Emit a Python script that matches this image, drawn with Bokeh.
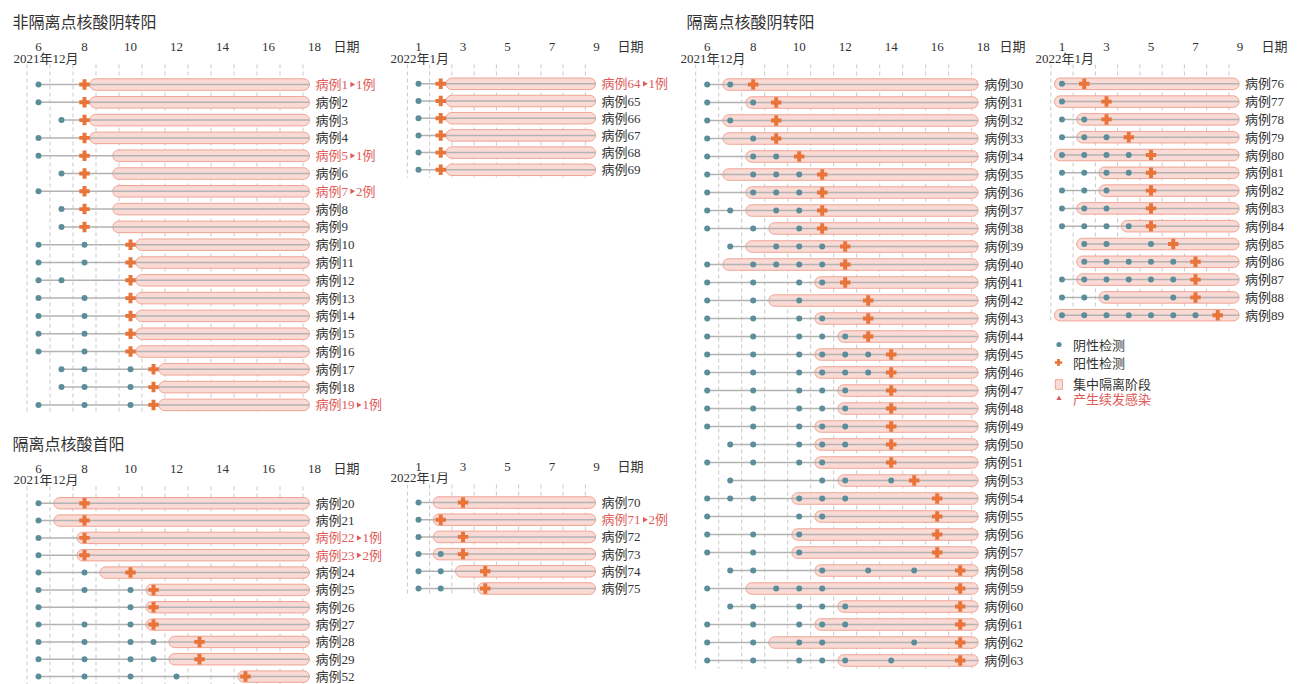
import math
import numpy as np
from bokeh.plotting import figure
from bokeh.models import (Range1d, FixedTicker, Label, Legend, LegendItem,
                          PrintfTickFormatter)
from bokeh.layouts import row, column
from bokeh.embed import file_html
from bokeh.resources import INLINE
from bokeh.core.properties import value

# ---------------- data ----------------
DEC_TICKS = [6, 8, 10, 12, 14, 16, 18]
JAN_TICKS = [1, 3, 5, 7, 9]
DEC_MONTH = "2021年12月"
JAN_MONTH = "2022年1月"
AXIS_NAME = "日期"
DEC_QEND = 17.78
JAN_QEND = 8.96

# 非隔离点核酸阴转阳 (Dec)
A_TITLE = "非隔离点核酸阴转阳"
A_CASES = list(range(1, 20))
A_NEG = [[6], [6], [7], [6], [6], [7], [6], [7], [7], [6, 8], [6, 8], [6, 7], [6, 8], [6, 8],
         [6, 8], [6, 8], [7, 8, 10], [7, 8, 10], [6, 8, 10]]
A_POS = [8, 8, 8, 8, 8, 8, 8, 8, 8, 10, 10, 10, 10, 10, 10, 10, 11, 11, 11]
A_QSTART = [8.23, 8.23, 8.23, 8.23, 9.23, 9.23, 9.23, 9.23, 9.23, 10.23, 10.23, 10.23, 10.23,
            10.23, 10.23, 10.23, 11.23, 11.23, 11.23]
A_SEC = [1, 0, 0, 0, 1, 0, 2, 0, 0, 0, 0, 0, 0, 0, 0, 0, 0, 0, 1]

# 非隔离点核酸阴转阳 (Jan)
B_CASES = [64, 65, 66, 67, 68, 69]
B_NEG = [[1], [1], [1], [1], [1], [1]]
B_POS = [2, 2, 2, 2, 2, 2]
B_QSTART = [2.24, 2.24, 2.24, 2.24, 2.24, 2.24]
B_SEC = [1, 0, 0, 0, 0, 0]

# 隔离点核酸首阳 (Dec)
C_TITLE = "隔离点核酸首阳"
C_CASES = [20, 21, 22, 23, 24, 25, 26, 27, 28, 29, 52]
C_NEG = [[6], [6], [6], [6], [6, 8], [6, 8, 10], [6, 10], [6, 8, 10], [6, 8, 10, 11],
         [6, 8, 10, 11], [6, 8, 10, 12]]
C_POS = [8, 8, 8, 8, 10, 11, 11, 11, 13, 13, 15]
C_QSTART = [6.67, 6.67, 7.67, 7.67, 8.67, 10.67, 10.67, 10.67, 11.67, 11.67, 14.67]
C_SEC = [0, 0, 1, 2, 0, 0, 0, 0, 0, 0, 0]

# 隔离点核酸首阳 (Jan)
D_CASES = [70, 71, 72, 73, 74, 75]
D_NEG = [[1], [1], [1], [1, 2], [1, 2], [1, 2]]
D_POS = [3, 2, 3, 3, 4, 4]
D_QSTART = [1.66, 1.66, 1.66, 1.66, 2.66, 3.66]
D_SEC = [0, 2, 0, 0, 0, 0]

# 隔离点核酸阴转阳 (Dec)
E_TITLE = "隔离点核酸阴转阳"
E_CASES = list(range(30, 52)) + list(range(53, 64))
E_NEG = [[6, 7], [6, 8], [6, 7], [6, 8], [6, 8, 9], [6, 8, 9, 10], [6, 8, 9, 10], [6, 7, 9, 10],
         [6, 8, 10], [7, 9, 10, 11], [6, 8, 9, 10, 11], [6, 8, 10, 11], [6, 8, 10],
         [6, 8, 10, 11], [6, 8, 10, 11, 12], [6, 8, 10, 11, 12, 13], [6, 8, 10, 11, 12, 13],
         [6, 8, 10, 11, 12], [6, 8, 10, 11, 12], [6, 8, 10, 11, 12], [7, 8, 10, 11, 12],
         [6, 8, 10, 11], [7, 11, 12, 14], [6, 7, 8, 10, 11, 12], [6, 10, 11], [6, 8, 10],
         [6, 8, 10], [7, 8, 11, 13, 15], [6, 9, 10, 11], [7, 8, 10, 11, 12], [6, 8, 10, 11, 12],
         [6, 8, 10, 11, 15], [6, 8, 10, 11, 12, 14]]
E_POS = [8, 9, 9, 9, 10, 11, 11, 11, 11, 12, 12, 12, 13, 13, 13, 14, 14, 14, 14, 14, 14, 14,
         15, 16, 16, 16, 16, 17, 17, 17, 17, 17, 17]
E_QSTART = [6.68, 7.68, 6.68, 6.68, 7.68, 6.68, 7.68, 7.68, 8.68, 7.68, 6.68, 10.68, 8.68,
            10.68, 11.68, 10.68, 10.68, 11.68, 11.68, 10.68, 10.68, 10.68, 11.68, 9.68, 10.68,
            9.68, 9.68, 10.68, 7.68, 11.68, 10.68, 8.68, 11.68]
E_SEC = [0] * 33

# 隔离点核酸阴转阳 (Jan)
F_CASES = list(range(76, 90))
F_NEG = [[1], [1], [1, 2], [1, 2, 3], [1, 2, 3, 4], [1, 2, 3, 4], [1, 2, 3], [1, 2, 3],
         [1, 2, 3, 4], [2, 3, 5], [2, 3, 4, 5, 6], [1, 2, 3, 4, 5, 6], [1, 2, 3, 6],
         [1, 2, 3, 4, 5, 6, 7]]
F_POS = [2, 3, 3, 4, 5, 5, 5, 5, 5, 6, 7, 7, 7, 8]
F_QSTART = [0.66, 0.66, 1.66, 1.66, 0.66, 2.66, 2.66, 1.66, 3.66, 1.66, 1.66, 1.66, 2.66, 0.66]
F_SEC = [0] * 14

LEGEND_LABELS = ["阴性检测", "阳性检测", "集中隔离阶段", "产生续发感染"]

# ---------------- style ----------------
NEG_COLOR = "#5b8e9a"
POS_COLOR = "#e8743a"
BAR_FILL = "#fadad4"
BAR_LINE = "#efa494"
LINE_COLOR = "#b3b3b3"
GRID_COLOR = "#c9c9c9"
TEXT_COLOR = "#333333"
RED = "#e05a58"
FONT = "'Liberation Serif', 'Noto Sans CJK SC'"


def build(geom, cases, neg, pos, qstart, qend, sec, ticks, month, title=None, legend=False):
    bx, by, w, h = geom["box"]
    ftop = geom["frame_top"]
    ppd, ppr = geom["ppd"], geom["ppr"]

    def X(px):
        return geom["day"] + (px - geom["day_px"]) / ppd

    def Y(py):
        return (py - geom["row0"]) / ppr

    p = figure(width=w, height=h,
               x_range=Range1d(X(bx), X(bx + w)),
               y_range=Range1d(Y(by + h), Y(ftop)),
               x_axis_location="above", y_axis_location=None,
               min_border_top=int(ftop - by), min_border_left=0, min_border_right=0,
               min_border_bottom=0, toolbar_location=None, output_backend="svg",
               outline_line_color=None, background_fill_color="white",
               border_fill_color="white")
    p.grid.visible = False
    unit_x = X(geom["unit_x"])
    ax = p.xaxis[0]
    ax.ticker = FixedTicker(ticks=list(ticks) + [unit_x])
    ax.formatter = PrintfTickFormatter(format="%d")
    ax.major_label_overrides = {unit_x: AXIS_NAME}
    ax.axis_line_color = None
    ax.major_tick_line_color = None
    ax.minor_tick_line_color = None
    ax.major_tick_out = 0
    ax.major_tick_in = 0
    ax.major_label_standoff = -1
    ax.major_label_text_font = FONT
    ax.major_label_text_font_size = "13px"
    ax.major_label_text_color = TEXT_COLOR

    if title:
        p.title.text = title
        p.title.text_font = FONT
        p.title.text_font_size = "16px"
        p.title.text_font_style = "normal"
        p.title.text_color = TEXT_COLOR
        p.title.align = "left"
        p.title.offset = geom["title_offset"]
        p.title.standoff = 10

    n = len(cases)
    ys = list(range(n))

    gx = [float(v) for v in np.arange(ticks[0] - 0.5, ticks[-1], 1.0)]
    p.segment(x0=gx, x1=gx, y0=[Y(ftop + 12)] * len(gx), y1=[n - 1 + 8 / ppr] * len(gx),
              line_color=GRID_COLOR, line_dash="4 3", line_width=1)

    bar_r = p.hbar(y=ys, left=qstart, right=[qend] * n, height=11.5 / ppr,
                   fill_color=BAR_FILL, line_color=BAR_LINE, line_width=1, border_radius=6)

    first = [min(ng + [ps]) for ng, ps in zip(neg, pos)]
    p.segment(x0=first, x1=[qend] * n, y0=ys, y1=ys, line_color=LINE_COLOR, line_width=1.5)

    nx = [d for ng in neg for d in ng]
    ny = [i for i, ng in enumerate(neg) for _ in ng]
    dot_r = p.scatter(nx, ny, marker="circle", size=6, fill_color=NEG_COLOR, line_color=None)
    plus_r = p.scatter(pos, ys, marker="plus", size=10.5, fill_color=POS_COLOR, line_color=None)

    lx = qend + 6 / ppd
    colors = [RED if s else TEXT_COLOR for s in sec]
    p.text(x=[lx] * n, y=ys, text=[f"病例{c}" for c in cases], text_color=colors,
           text_font=value(FONT), text_font_size="13px", text_baseline="middle",
           text_align="left")

    idx = [i for i, s in enumerate(sec) if s]
    tx = [lx + (26 + 6.5 * len(str(cases[i])) + 4) / ppd for i in idx]
    ty = [ys[i] for i in idx]
    if not tx:  # no secondary infections in this panel: keep a mark-less entry for the key
        tx, ty = [float("nan")], [float("nan")]
    tri_r = p.scatter(tx, ty, marker="triangle", angle=-math.pi / 2, size=5.5,
                      fill_color=RED, line_color=None)
    if idx:
        p.text(x=[t + 4 / ppd for t in tx], y=ty, text=[f"{sec[i]}例" for i in idx],
               text_color=RED, text_font=value(FONT), text_font_size="13px",
               text_baseline="middle", text_align="left")

    mx, my = geom["month"]
    p.add_layout(Label(x=X(mx), y=Y(my), text=month, text_align="left", text_baseline="middle",
                       text_font=FONT, text_font_size="13px", text_color=TEXT_COLOR))

    if legend:
        gcx, text_left = geom["legend_x"]
        centers = geom["legend_y"]
        fb = by + h
        specs = [
            (LEGEND_LABELS[0], dot_r, 13, 20, TEXT_COLOR, 0),
            (LEGEND_LABELS[1], plus_r, 18, 20, TEXT_COLOR, 0),
            (LEGEND_LABELS[2], bar_r, 9, 12, TEXT_COLOR, 7),
            (LEGEND_LABELS[3], tri_r, 13, 20, RED, 0),
        ]
        for (lab, rend, gw, gh, col, extra), cy in zip(specs, centers):
            left = gcx - gw / 2
            leg = Legend(items=[LegendItem(label=lab, renderers=[rend])],
                         location=(int(round(left - bx)), int(round(fb - (cy + gh / 2 + extra)))),
                         background_fill_alpha=0, border_line_color=None, padding=0, margin=0,
                         glyph_width=gw, glyph_height=gh, label_height=gh, spacing=0,
                         label_standoff=int(round(text_left - gcx - gw / 2)),
                         label_text_font=FONT, label_text_font_size="13px",
                         label_text_color=col)
            p.add_layout(leg)
    return p


GA = dict(box=(0, 0, 388, 428), frame_top=52, day=6, day_px=38, ppd=23, row0=84, ppr=17.8,
          month=(13, 58), unit_x=346, title_offset=12)
GC = dict(box=(0, 428, 388, 256), frame_top=472, day=6, day_px=38, ppd=23, row0=501,
          ppr=17.5, month=(13, 477), unit_x=346, title_offset=12)
GB = dict(box=(388, 0, 288, 428), frame_top=52, day=1, day_px=418, ppd=22.25, row0=83.3,
          ppr=17.2, month=(390, 58), unit_x=630)
GD = dict(box=(388, 428, 288, 256), frame_top=472, day=1, day_px=418, ppd=22.25, row0=502,
          ppr=17.2, month=(390, 477), unit_x=630)
GE = dict(box=(676, 0, 358, 684), frame_top=52, day=6, day_px=706.7, ppd=23, row0=84, ppr=18,
          month=(680, 58), unit_x=1012, title_offset=10)
GF = dict(box=(1034, 0, 264, 684), frame_top=52, day=1, day_px=1061.5, ppd=22.25, row0=83.3,
          ppr=17.8, month=(1035, 58), unit_x=1274,
          legend_x=(1058, 1073), legend_y=(344, 362, 380, 398))

pA = build(GA, A_CASES, A_NEG, A_POS, A_QSTART, DEC_QEND, A_SEC, DEC_TICKS, DEC_MONTH, A_TITLE)
pC = build(GC, C_CASES, C_NEG, C_POS, C_QSTART, DEC_QEND, C_SEC, DEC_TICKS, DEC_MONTH, C_TITLE)
pB = build(GB, B_CASES, B_NEG, B_POS, B_QSTART, JAN_QEND, B_SEC, JAN_TICKS, JAN_MONTH)
pD = build(GD, D_CASES, D_NEG, D_POS, D_QSTART, JAN_QEND, D_SEC, JAN_TICKS, JAN_MONTH)
pE = build(GE, E_CASES, E_NEG, E_POS, E_QSTART, DEC_QEND, E_SEC, DEC_TICKS, DEC_MONTH, E_TITLE)
pF = build(GF, F_CASES, F_NEG, F_POS, F_QSTART, JAN_QEND, F_SEC, JAN_TICKS, JAN_MONTH,
           legend=True)

layout = row(column(pA, pC, spacing=0), column(pB, pD, spacing=0), pE, pF, spacing=0)

with open("out.html", "w", encoding="utf-8") as f:
    f.write(file_html(layout, INLINE))
